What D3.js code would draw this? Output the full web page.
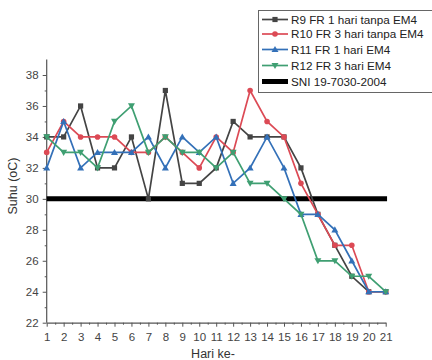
<!DOCTYPE html>
<html><head><meta charset="utf-8">
<script src="https://cdn.jsdelivr.net/npm/d3@7/dist/d3.min.js"></script>
<style>body{margin:0;background:#fff}svg{display:block;font-family:"Liberation Sans",Arial,sans-serif}</style>
</head><body><svg id="c" width="432" height="360"></svg>
<script>
const days = d3.range(1, 22);
const r9  = [34,34,36,32,32,34,30,37,31,31,32,35,34,34,34,32,29,27,25,24,24];
const r10 = [33,35,34,34,34,33,33,34,33,32,34,33,37,35,34,31,29,27,27,24,24];
const r11 = [32,35,32,33,33,33,34,32,34,33,34,31,32,34,32,29,29,28,26,24,24];
const r12 = [34,33,33,32,35,36,33,34,33,33,32,33,31,31,30,29,26,26,25,25,24];
const sni = 30;
const yTicks = [22,24,26,28,30,32,34,36,38];
const seriesNames = ["R9 FR 1 hari tanpa EM4","R10 FR 3 hari tanpa EM4","R11 FR 1 hari EM4","R12 FR 3 hari EM4"];
const sniName = "SNI 19-7030-2004";
const colors = ["#444444","#dc4a55","#3370b8","#3f9f72"];
const symbols = ["square","circle","triUp","triDown"];

const svg = d3.select("#c");
const x = d3.scaleLinear().domain([1,21]).range([46.7,385.7]);
const y = d3.scaleLinear().domain([22,38]).range([322.7,75]);
const axisCol = "#555";

// axes
const gx = svg.append("g").attr("transform",`translate(0,${y(22)})`)
  .call(d3.axisBottom(x).tickValues(days).tickFormat(d3.format("d")).tickSize(4).tickSizeOuter(0));
gx.select(".domain").attr("stroke",axisCol).attr("stroke-width",1.2);
gx.selectAll(".tick line").attr("stroke",axisCol);
gx.selectAll("text").attr("fill","#444").attr("font-size",11.5).attr("dy","0.95em");
svg.append("g").attr("transform",`translate(0,${y(22)})`)
  .call(d3.axisBottom(x).tickValues(d3.range(1.5,21,1)).tickFormat("").tickSize(2).tickSizeOuter(0))
  .call(g=>{g.select(".domain").remove();g.selectAll("line").attr("stroke",axisCol);});

const gy = svg.append("g").attr("transform",`translate(${x(1)},0)`)
  .call(d3.axisLeft(y).tickValues(yTicks).tickSize(4).tickSizeOuter(0));
gy.select(".domain").attr("stroke",axisCol).attr("stroke-width",1.2).attr("d",`M0,${y(22)}V${y(39)}`);
gy.selectAll(".tick line").attr("stroke",axisCol);
gy.selectAll("text").attr("fill","#444").attr("font-size",11.5).attr("dx","-0.1em");
svg.append("g").attr("transform",`translate(${x(1)},0)`)
  .call(d3.axisLeft(y).tickValues(d3.range(23,39,2)).tickFormat("").tickSize(2).tickSizeOuter(0))
  .call(g=>{g.select(".domain").remove();g.selectAll("line").attr("stroke",axisCol);});

// titles
svg.append("text").attr("x",213).attr("y",358).attr("text-anchor","middle")
  .attr("font-size",12.5).attr("fill","#333").text("Hari ke-");
svg.append("text").attr("transform",`translate(17,${186}) rotate(-90)`).attr("text-anchor","middle")
  .attr("font-size",12.5).attr("fill","#333").text("Suhu (oC)");

// SNI line
svg.append("line").attr("x1",x(1)).attr("x2",x(21.08)).attr("y1",y(sni)).attr("y2",y(sni))
  .attr("stroke","#000").attr("stroke-width",5);

function drawSym(g, type, cx, cy, color){
  if(type==="square") g.append("rect").attr("x",cx-2.6).attr("y",cy-2.6).attr("width",5.2).attr("height",5.2).attr("fill",color);
  else if(type==="circle") g.append("circle").attr("cx",cx).attr("cy",cy).attr("r",2.8).attr("fill",color);
  else if(type==="triUp") g.append("path").attr("d",`M${cx},${cy-3.5}L${cx+3.5},${cy+2.6}L${cx-3.5},${cy+2.6}Z`).attr("fill",color);
  else g.append("path").attr("d",`M${cx},${cy+3.5}L${cx+3.5},${cy-2.6}L${cx-3.5},${cy-2.6}Z`).attr("fill",color);
}

const allSeries = [r9,r10,r11,r12];
const line = d3.line().x((d,i)=>x(days[i])).y(d=>y(d));
allSeries.forEach((s,k)=>{
  const g = svg.append("g");
  g.append("path").attr("d",line(s)).attr("fill","none").attr("stroke",colors[k]).attr("stroke-width",1.7);
  s.forEach((v,i)=>drawSym(g,symbols[k],x(days[i]),y(v),colors[k]));
});

// legend
const lg = svg.append("g");
lg.append("rect").attr("x",258.5).attr("y",10.5).attr("width",190).attr("height",82)
  .attr("fill","#fff").attr("stroke","#666").attr("stroke-width",1);
const ly = [19.5,34,49.5,65.5,81.5];
const fs = 11.7;
seriesNames.forEach((n,k)=>{
  lg.append("line").attr("x1",262).attr("x2",288).attr("y1",ly[k]).attr("y2",ly[k]).attr("stroke",colors[k]).attr("stroke-width",1.7);
  drawSym(lg,symbols[k],275,ly[k],colors[k]);
  lg.append("text").attr("x",291).attr("y",ly[k]).attr("dy","0.36em").attr("font-size",fs).attr("fill","#222").text(n);
});
lg.append("line").attr("x1",262).attr("x2",288).attr("y1",ly[4]).attr("y2",ly[4]).attr("stroke","#000").attr("stroke-width",5);
lg.append("text").attr("x",291).attr("y",ly[4]).attr("dy","0.36em").attr("font-size",fs).attr("fill","#222").text(sniName);
</script></body></html>
